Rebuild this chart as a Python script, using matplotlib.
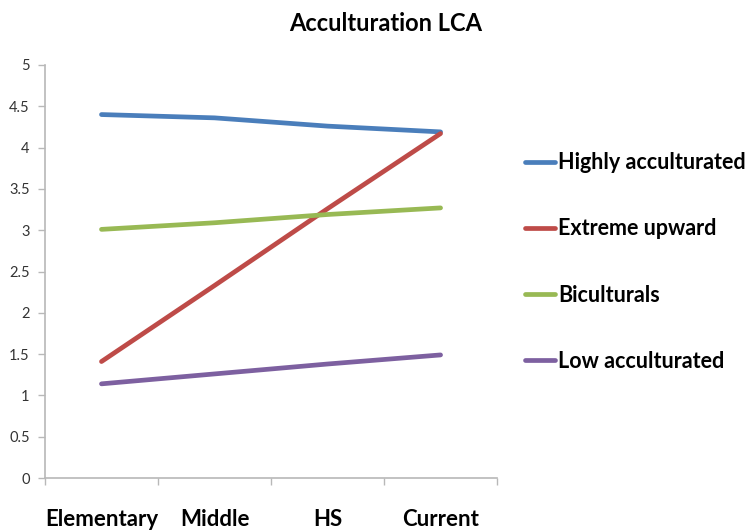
import matplotlib
matplotlib.use("Agg")
import matplotlib.pyplot as plt
from matplotlib.ticker import FixedLocator

plt.rcParams['font.family'] = ['Lato', 'DejaVu Sans']

stages = ["Elementary", "Middle", "HS", "Current"]
highly = [4.40, 4.36, 4.26, 4.19]
extreme = [1.41, 2.33, 3.26, 4.17]
bicultural = [3.01, 3.09, 3.19, 3.27]
low = [1.14, 1.26, 1.38, 1.49]

series = [
    ("Highly acculturated", highly, "#4A7EBB"),
    ("Extreme upward", extreme, "#BE4B48"),
    ("Biculturals", bicultural, "#98B954"),
    ("Low acculturated", low, "#7D60A0"),
]

fig = plt.figure(figsize=(7.52, 5.31), dpi=100)
ax = fig.add_axes([0.0598, 0.0998, 0.6012, 0.7778])

x = range(len(stages))
for name, vals, col in series:
    ax.plot(x, vals, color=col, lw=3.4, label=name, solid_capstyle='round')

ax.set_xlim(-0.5, len(stages) - 0.5)
ax.set_ylim(0, 5)
ax.set_yticks([i * 0.5 for i in range(11)])
ax.set_yticklabels(["0", "0.5", "1", "1.5", "2", "2.5", "3", "3.5", "4", "4.5", "5"])
ax.set_xticks(list(x))
ax.set_xticklabels(stages, fontsize=16, fontweight='bold')
ax.xaxis.set_minor_locator(FixedLocator([i - 0.5 for i in range(len(stages) + 1)]))

ax.tick_params(axis='x', which='major', length=0, pad=22)
ax.tick_params(axis='x', which='minor', length=5, color='#b8b8b8', width=1)
ax.tick_params(axis='y', length=5, color='#b8b8b8', width=1, labelsize=10.5,
               labelcolor='#333333', pad=6)

for side in ('top', 'right'):
    ax.spines[side].set_visible(False)
for side in ('left', 'bottom'):
    ax.spines[side].set_color('#b8b8b8')
    ax.spines[side].set_linewidth(1.2)

fig.text(0.513, 0.955, "Acculturation LCA", ha='center', va='center',
         fontsize=17, fontweight='bold')

leg = fig.legend(loc='upper left', bbox_to_anchor=(0.672, 0.75), frameon=False,
                 handlelength=1.4, handletextpad=0.15, labelspacing=2.1,
                 prop={'size': 15.5, 'weight': 'bold'})
for h in leg.get_lines():
    h.set_linewidth(3.4)

fig.savefig("out.png", dpi=100)
